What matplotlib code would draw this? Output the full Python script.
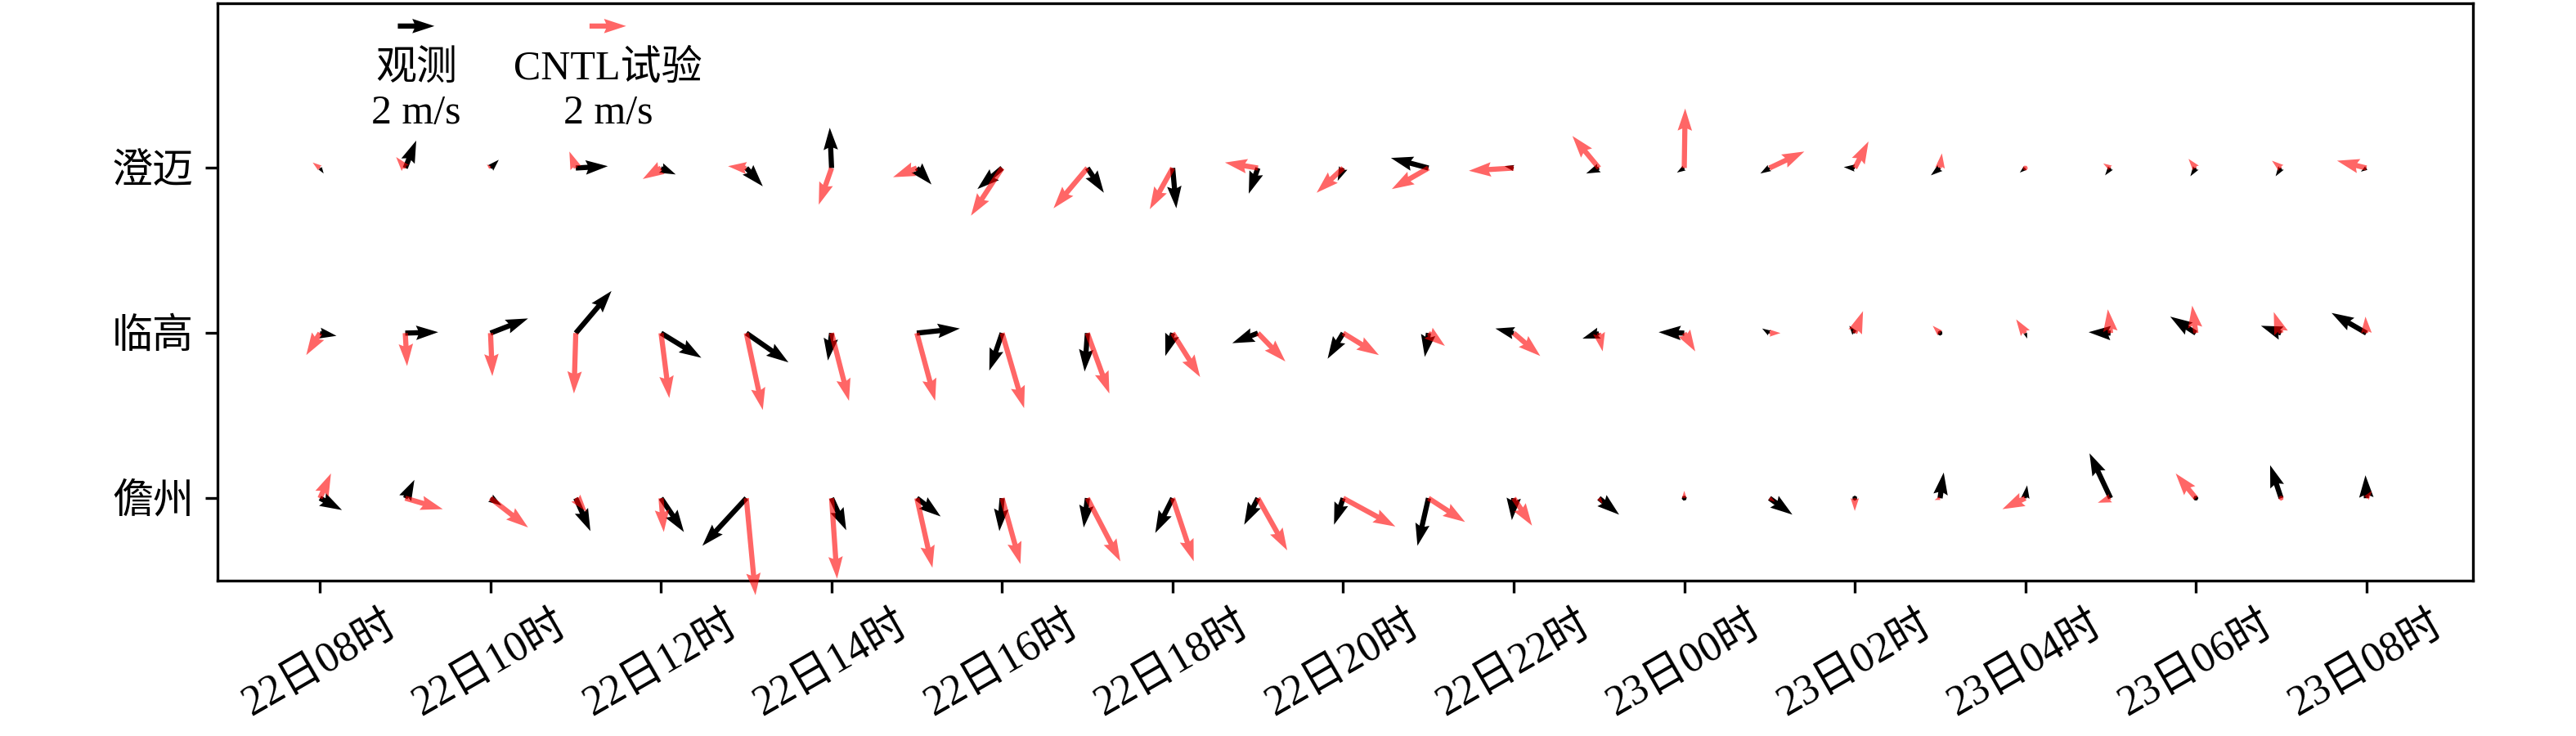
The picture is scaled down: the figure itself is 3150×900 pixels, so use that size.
import numpy as np
import matplotlib
matplotlib.use("Agg")
import matplotlib.pyplot as plt

plt.rcParams["font.family"] = ["Liberation Serif", "Noto Sans CJK SC"]
plt.rcParams["axes.unicode_minus"] = False

# hourly times, 22日08时 .. 23日08时
hours = np.arange(25)
tick_pos = np.arange(0, 25, 2)
tick_labels = ["22日08时", "22日10时", "22日12时", "22日14时", "22日16时",
               "22日18时", "22日20时", "22日22时", "23日00时", "23日02时",
               "23日04时", "23日06时", "23日08时"]

stations = ["澄迈", "临高", "儋州"]
station_y = [3, 2, 1]

# 澄迈
cm_obs_u = [0.2, 0.6, 0.45, 1.75, 0.8, 0.9, -0.1, 0.8, -1.35, 0.9, 0.2, -0.5, -0.3,
            -2.05, -0.5, -0.7, -0.4, -0.5, -0.6, -0.5, -0.3, -0.3, -0.3, -0.3, -0.3]
cm_obs_v = [-0.3, 1.5, 0.45, 0.1, -0.35, -1.0, 2.2, -0.9, -1.15, -1.35, -2.2, -1.4, -0.7,
            0.55, 0.1, -0.3, -0.25, -0.3, 0.05, -0.4, -0.25, -0.4, -0.45, -0.45, -0.2]
cm_cntl_u = [-0.4, -0.5, -0.2, -0.35, -1.0, -1.0, -0.7, -1.3, -1.7, -1.85, -1.25, -1.8, -1.45,
             -2.0, -2.45, -1.45, 0.05, 1.9, 0.75, 0.1, 0.1, -0.4, -0.4, -0.5, -1.6]
cm_cntl_v = [0.3, 0.6, 0.2, 0.9, -0.6, 0.1, -2.0, -0.5, -2.6, -2.2, -2.25, 0.3, -1.35,
             -1.15, -0.15, 1.75, 3.25, 0.9, 1.45, 0.8, 0.15, 0.25, 0.5, 0.4, 0.4]

# 临高
lg_obs_u = [0.9, 1.8, 2.05, 1.95, 2.2, 2.3, -0.2, 2.35, -0.7, -0.15, -0.4, -1.4, -0.85,
            -0.2, -1.0, -0.9, -1.4, -0.4, -0.3, 0.0, 0.1, -1.2, -1.4, -1.1, -1.9]
lg_obs_v = [-0.15, 0.05, 0.8, 2.3, -1.35, -1.6, -1.5, 0.25, -2.05, -2.1, -1.25, -0.55, -1.4,
            -1.3, 0.25, -0.3, 0.05, 0.25, 0.4, -0.2, -0.3, 0.05, 0.9, 0.4, 1.1]
lg_cntl_u = [-0.75, 0.1, 0.1, -0.1, 0.45, 0.9, 0.95, 1.0, 1.2, 1.2, 1.5, 1.5, 1.95,
             0.9, 1.45, 0.2, 0.6, 0.6, 0.45, -0.4, -0.5, -0.15, -0.2, -0.4, -0.05]
lg_cntl_v = [-1.2, -1.8, -2.35, -3.3, -3.55, -4.2, -3.7, -3.7, -4.1, -3.3, -2.4, -1.55, -1.2,
             -0.7, -1.25, -1.0, -1.0, 0.0, 1.2, 0.4, 0.75, 1.3, 1.5, 1.15, 0.9]

# 儋州
dz_obs_u = [1.2, 0.5, 0.6, 0.8, 1.25, -2.4, 0.8, 1.3, -0.15, -0.2, -0.95, -0.75, -0.5,
            -0.6, -0.1, 1.1, 0.05, 1.25, 0.0, 0.2, 0.1, -1.15, 0.05, -0.6, -0.05]
dz_obs_v = [-0.65, 1.0, -0.4, -1.8, -1.85, -2.6, -1.75, -1.0, -1.8, -1.6, -1.9, -1.45, -1.45,
            -2.6, -1.2, -0.9, -0.05, -0.9, 0.1, 1.4, 0.7, 2.45, 0.1, 1.8, 1.25]
dz_cntl_u = [0.6, 2.05, 2.05, 0.6, 0.15, 0.5, 0.3, 0.85, 1.0, 1.8, 1.15, 1.6, 2.85,
             2.0, 1.0, 0.2, 0.0, 0.3, 0.0, -0.3, -1.25, -0.7, -1.1, 0.0, 0.3]
dz_cntl_v = [1.35, -0.6, -1.6, -0.75, -1.85, -5.3, -4.4, -3.8, -3.6, -3.45, -3.45, -2.85, -1.55,
             -1.3, -1.5, -0.3, 0.4, -0.2, -0.7, -0.1, -0.6, -0.25, 1.35, 0.2, 0.4]

obs_u = [cm_obs_u, lg_obs_u, dz_obs_u]
obs_v = [cm_obs_v, lg_obs_v, dz_obs_v]
cntl_u = [cm_cntl_u, lg_cntl_u, dz_cntl_u]
cntl_v = [cm_cntl_v, lg_cntl_v, dz_cntl_v]


def main():
    fig = plt.figure(figsize=(10.5, 3), dpi=300)
    ax = fig.add_axes([0.0845, 0.211, 0.8755, 0.785])

    X, Y = np.meshgrid(hours, station_y)
    qkw = dict(angles="uv", scale_units="inches", scale=13.4, units="inches",
               width=0.021, headwidth=2.8, headlength=4.3, headaxislength=3.9,
               clip_on=False)
    q_obs = ax.quiver(X, Y, np.array(obs_u), np.array(obs_v), color="black",
                      zorder=3, **qkw)
    q_cntl = ax.quiver(X, Y, np.array(cntl_u), np.array(cntl_v), color="red",
                       alpha=0.6, zorder=4, **qkw)

    fp = {"family": ["Liberation Serif", "Noto Sans CJK SC"], "size": 12}
    ax.quiverkey(q_obs, 0.088, 0.96, 2, "观测\n2 m/s", labelpos="S",
                 coordinates="axes", fontproperties=fp)
    ax.quiverkey(q_cntl, 0.173, 0.96, 2, "CNTL试验\n2 m/s", labelpos="S",
                 coordinates="axes", fontproperties=fp)

    ax.set_xlim(-1.2, 25.25)
    ax.set_ylim(0.5, 4)
    ax.set_xticks(tick_pos)
    ax.set_xticklabels(tick_labels, rotation=30, fontsize=12.5)
    ax.set_yticks(station_y)
    ax.set_yticklabels(stations, fontsize=12)

    fig.savefig("out.png", dpi=300)
    plt.close(fig)


if __name__ == "__main__":
    main()
